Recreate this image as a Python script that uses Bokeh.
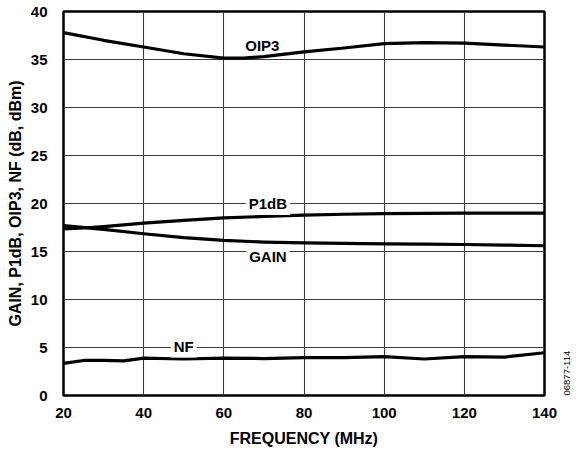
import math
from bokeh.plotting import figure
from bokeh.models import FixedTicker, Label, LinearAxis
from bokeh.embed import file_html
from bokeh.resources import INLINE

# ---- data ----
x_ticks = [20, 40, 60, 80, 100, 120, 140]
y_ticks = [0, 5, 10, 15, 20, 25, 30, 35, 40]

freq_oip3 = [20, 30, 40, 50, 60, 65, 70, 80, 90, 100, 110, 120, 130, 140]
oip3 = [37.8, 37.0, 36.3, 35.6, 35.15, 35.15, 35.3, 35.8, 36.2, 36.65, 36.75, 36.7, 36.5, 36.3]

freq_p1db = [20, 25, 30, 40, 50, 60, 70, 80, 90, 100, 110, 120, 130, 140]
p1db = [17.35, 17.45, 17.6, 17.95, 18.25, 18.5, 18.65, 18.78, 18.88, 18.95, 18.98, 19.0, 19.0, 19.0]

freq_gain = [20, 30, 40, 50, 60, 70, 80, 90, 100, 110, 120, 130, 140]
gain = [17.7, 17.3, 16.85, 16.45, 16.15, 15.98, 15.9, 15.85, 15.8, 15.77, 15.73, 15.67, 15.6]

freq_nf = [20, 25, 30, 35, 40, 50, 60, 70, 80, 90, 100, 110, 120, 130, 140]
nf = [3.35, 3.65, 3.65, 3.6, 3.9, 3.8, 3.9, 3.85, 3.95, 3.95, 4.05, 3.8, 4.05, 4.0, 4.45]

series_labels = ["OIP3", "P1dB", "GAIN", "NF"]
label_x = [69.6, 71.0, 71.0, 50.0]
label_y = [36.5, 20.0, 14.5, 5.15]

doc_number = "06877-114"

FONT = "Liberation Sans"

p = figure(width=576, height=451, output_backend="svg", toolbar_location=None,
           x_range=(20, 140), y_range=(0, 40),
           min_border_left=63, min_border_right=32, min_border_top=11, min_border_bottom=56)

p.background_fill_color = "white"
p.border_fill_color = "white"
p.outline_line_color = "black"
p.outline_line_width = 2.5

for ax in (p.xaxis[0], p.yaxis[0]):
    ax.axis_line_color = None
    ax.major_tick_line_color = None
    ax.minor_tick_line_color = None
    ax.major_label_text_font = FONT
    ax.major_label_text_font_style = "bold"
    ax.major_label_text_font_size = "15px"
    ax.major_label_text_color = "black"
    ax.axis_label_text_font = FONT
    ax.axis_label_text_font_style = "bold"
    ax.axis_label_text_font_size = "16px"
    ax.axis_label_text_color = "black"

p.xaxis[0].ticker = FixedTicker(ticks=x_ticks)
p.yaxis[0].ticker = FixedTicker(ticks=y_ticks)
p.xaxis[0].axis_label = "FREQUENCY (MHz)"
p.yaxis[0].axis_label = "GAIN, P1dB, OIP3, NF (dB, dBm)"
p.xaxis[0].major_label_standoff = 6
p.yaxis[0].major_label_standoff = 10
p.xaxis[0].axis_label_standoff = 9
p.yaxis[0].axis_label_standoff = 4

p.xgrid[0].ticker = FixedTicker(ticks=x_ticks)
p.ygrid[0].ticker = FixedTicker(ticks=y_ticks)
for g in (p.xgrid[0], p.ygrid[0]):
    g.grid_line_color = "#3a3a3a"
    g.grid_line_width = 1.1

for fx, fy in ((freq_oip3, oip3), (freq_p1db, p1db), (freq_gain, gain), (freq_nf, nf)):
    p.line(fx, fy, line_color="black", line_width=3.2, line_join="round", line_cap="round")

for i, (t, lx, ly) in enumerate(zip(series_labels, label_x, label_y)):
    lab = Label(x=lx, y=ly, text=t, text_align="center", text_baseline="middle",
                text_font=FONT, text_font_style="bold", text_font_size="15px",
                text_color="black",
                background_fill_color="white" if i > 0 else None,
                padding=3)
    p.add_layout(lab)

# document number on the right side, as the label of a tickless right axis
rax = LinearAxis(ticker=FixedTicker(ticks=[]), axis_label=doc_number)
rax.axis_line_color = None
rax.major_tick_line_color = None
rax.minor_tick_line_color = None
rax.major_label_text_color = None
rax.major_label_standoff = 0
rax.major_tick_out = 0
rax.minor_tick_out = 0
rax.axis_label_standoff = 22
rax.axis_label_text_font = FONT
rax.axis_label_text_font_style = "normal"
rax.axis_label_text_font_size = "9.5px"
rax.axis_label_text_color = "black"
rax.axis_label_text_align = "right"
try:
    rax.axis_label_orientation = math.pi / 2
except Exception:
    pass
try:
    rax.axis_label_align = "start"
except Exception:
    pass
p.add_layout(rax, "right")

open("out.html", "w").write(file_html(p, INLINE))
